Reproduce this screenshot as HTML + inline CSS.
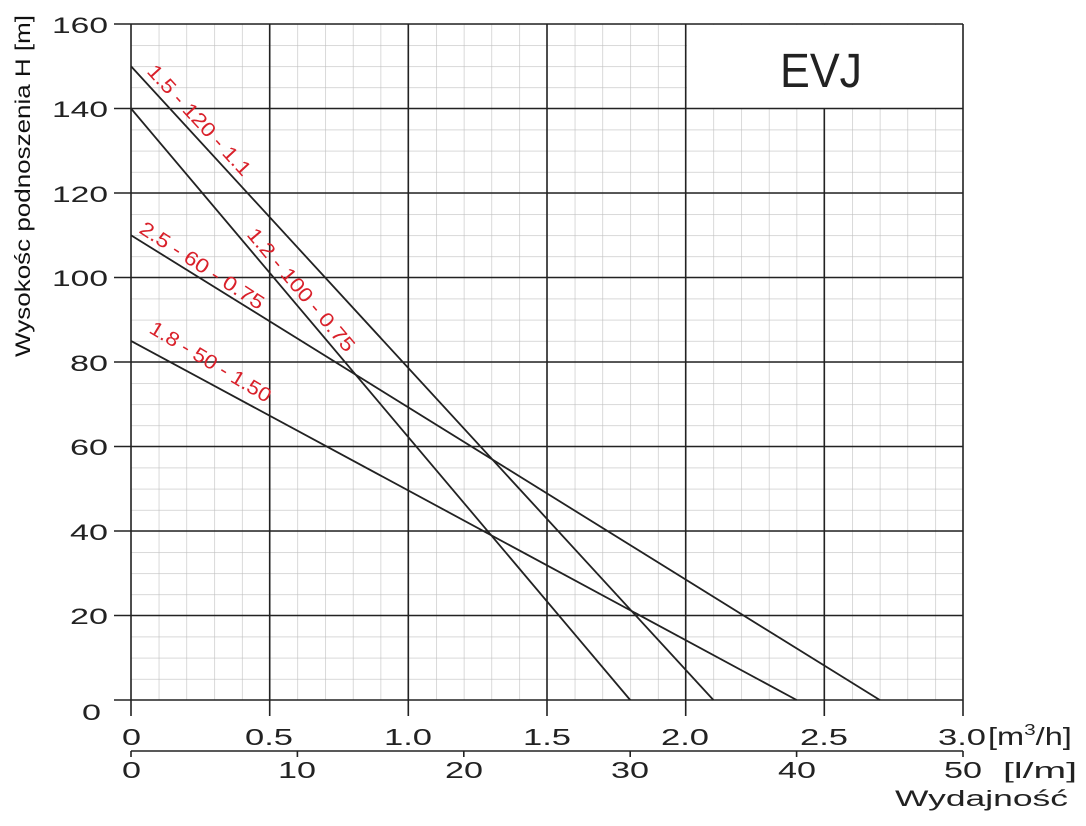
<!DOCTYPE html>
<html><head><meta charset="utf-8"><style>
html,body{margin:0;padding:0;background:#fff;}
svg{display:block;}
</style></head><body>
<svg width="1086" height="826" viewBox="0 0 1086 826" xmlns="http://www.w3.org/2000/svg" font-family="Liberation Sans, Arial, sans-serif">
<defs>
<pattern id="g" patternUnits="userSpaceOnUse" x="131" y="24" width="27.733" height="21.125">
<path d="M0 0V21.125M0 0H27.733" stroke="#c0c0c0" stroke-width="1.2" fill="none"/>
</pattern>
</defs>
<rect x="131" y="24" width="832" height="676" fill="url(#g)"/>
<line x1="963" y1="24" x2="963" y2="700" stroke="#c0c0c0"/>
<rect x="687" y="25" width="276" height="83" fill="#fff"/>
<g stroke="#222" stroke-width="1.6">
<line x1="131" y1="24" x2="131" y2="716"/>
<line x1="269.7" y1="24" x2="269.7" y2="716"/>
<line x1="408.3" y1="24" x2="408.3" y2="716"/>
<line x1="547" y1="24" x2="547" y2="716"/>
<line x1="685.7" y1="24" x2="685.7" y2="716"/>
<line x1="824.3" y1="108.5" x2="824.3" y2="716"/>
<line x1="963" y1="24" x2="963" y2="716"/>
<line x1="114" y1="700" x2="963" y2="700"/>
<line x1="114" y1="615.5" x2="963" y2="615.5"/>
<line x1="114" y1="531" x2="963" y2="531"/>
<line x1="114" y1="446.5" x2="963" y2="446.5"/>
<line x1="114" y1="362" x2="963" y2="362"/>
<line x1="114" y1="277.5" x2="963" y2="277.5"/>
<line x1="114" y1="193" x2="963" y2="193"/>
<line x1="114" y1="108.5" x2="963" y2="108.5"/>
<line x1="114" y1="24" x2="963" y2="24"/>
<line x1="131" y1="751" x2="963" y2="751"/>
<line x1="131" y1="751" x2="131" y2="757"/>
<line x1="297.4" y1="751" x2="297.4" y2="757"/>
<line x1="463.8" y1="751" x2="463.8" y2="757"/>
<line x1="630.2" y1="751" x2="630.2" y2="757"/>
<line x1="796.6" y1="751" x2="796.6" y2="757"/>
<line x1="963" y1="751" x2="963" y2="757"/>
</g>
<g stroke="#222" stroke-width="1.8">
<line x1="131" y1="66.25" x2="713.4" y2="700"/>
<line x1="131" y1="108.5" x2="630.2" y2="700"/>
<line x1="131" y1="235.25" x2="879.8" y2="700"/>
<line x1="131" y1="340.9" x2="796.6" y2="700"/>
</g>
<g font-size="22" fill="#222">
<text x="52" y="33" textLength="56" lengthAdjust="spacingAndGlyphs">160</text>
<text x="52" y="117" textLength="56" lengthAdjust="spacingAndGlyphs">140</text>
<text x="52" y="202" textLength="56" lengthAdjust="spacingAndGlyphs">120</text>
<text x="52" y="286" textLength="56" lengthAdjust="spacingAndGlyphs">100</text>
<text x="70" y="371" textLength="38" lengthAdjust="spacingAndGlyphs">80</text>
<text x="70" y="455" textLength="38" lengthAdjust="spacingAndGlyphs">60</text>
<text x="70" y="540" textLength="38" lengthAdjust="spacingAndGlyphs">40</text>
<text x="70" y="624" textLength="38" lengthAdjust="spacingAndGlyphs">20</text>
<text x="82" y="720" textLength="19" lengthAdjust="spacingAndGlyphs">0</text>
</g>
<g font-size="23" fill="#222">
<text x="122" y="745" textLength="19" lengthAdjust="spacingAndGlyphs">0</text>
<text x="245" y="745" textLength="48" lengthAdjust="spacingAndGlyphs">0.5</text>
<text x="384" y="745" textLength="48" lengthAdjust="spacingAndGlyphs">1.0</text>
<text x="523" y="745" textLength="48" lengthAdjust="spacingAndGlyphs">1.5</text>
<text x="661" y="745" textLength="48" lengthAdjust="spacingAndGlyphs">2.0</text>
<text x="800" y="745" textLength="48" lengthAdjust="spacingAndGlyphs">2.5</text>
<text x="938" y="745" textLength="48" lengthAdjust="spacingAndGlyphs">3.0</text>
<text x="122" y="778" textLength="19" lengthAdjust="spacingAndGlyphs">0</text>
<text x="278" y="778" textLength="38" lengthAdjust="spacingAndGlyphs">10</text>
<text x="445" y="778" textLength="38" lengthAdjust="spacingAndGlyphs">20</text>
<text x="611" y="778" textLength="38" lengthAdjust="spacingAndGlyphs">30</text>
<text x="778" y="778" textLength="38" lengthAdjust="spacingAndGlyphs">40</text>
<text x="944" y="778" textLength="38" lengthAdjust="spacingAndGlyphs">50</text>
</g>
<g transform="translate(988,745) scale(1.3,1)"><text x="0" y="0" font-size="25" fill="#222">[m<tspan font-size="16" dy="-10">3</tspan><tspan dy="10">/h]</tspan></text></g>
<text x="1003" y="778" font-size="22" fill="#222" textLength="74" lengthAdjust="spacingAndGlyphs">[l/m]</text>
<text x="895" y="806" font-size="22" fill="#222" textLength="173" lengthAdjust="spacingAndGlyphs">Wydajność</text>
<text x="0" y="0" font-size="21" fill="#111" text-anchor="middle" textLength="342" lengthAdjust="spacingAndGlyphs" transform="translate(30,186) rotate(-90)">Wysokośc podnoszenia H [m]</text>
<text x="780" y="87" font-size="48" fill="#222" textLength="82" lengthAdjust="spacingAndGlyphs">EVJ</text>
<g fill="#d9202a" font-size="20" font-family="Liberation Sans Narrow, Liberation Sans, sans-serif">
<text transform="translate(146,72) rotate(47.4)" textLength="143" lengthAdjust="spacingAndGlyphs">1.5 - 120 - 1.1</text>
<text transform="translate(246,235) rotate(49.8)" textLength="155" lengthAdjust="spacingAndGlyphs">1.2 - 100 - 0.75</text>
<text transform="translate(138,232) rotate(33)" textLength="144" lengthAdjust="spacingAndGlyphs">2.5 - 60 - 0.75</text>
<text transform="translate(148,332) rotate(31)" textLength="138" lengthAdjust="spacingAndGlyphs">1.8 - 50 - 1.50</text>
</g>
</svg>
</body></html>
